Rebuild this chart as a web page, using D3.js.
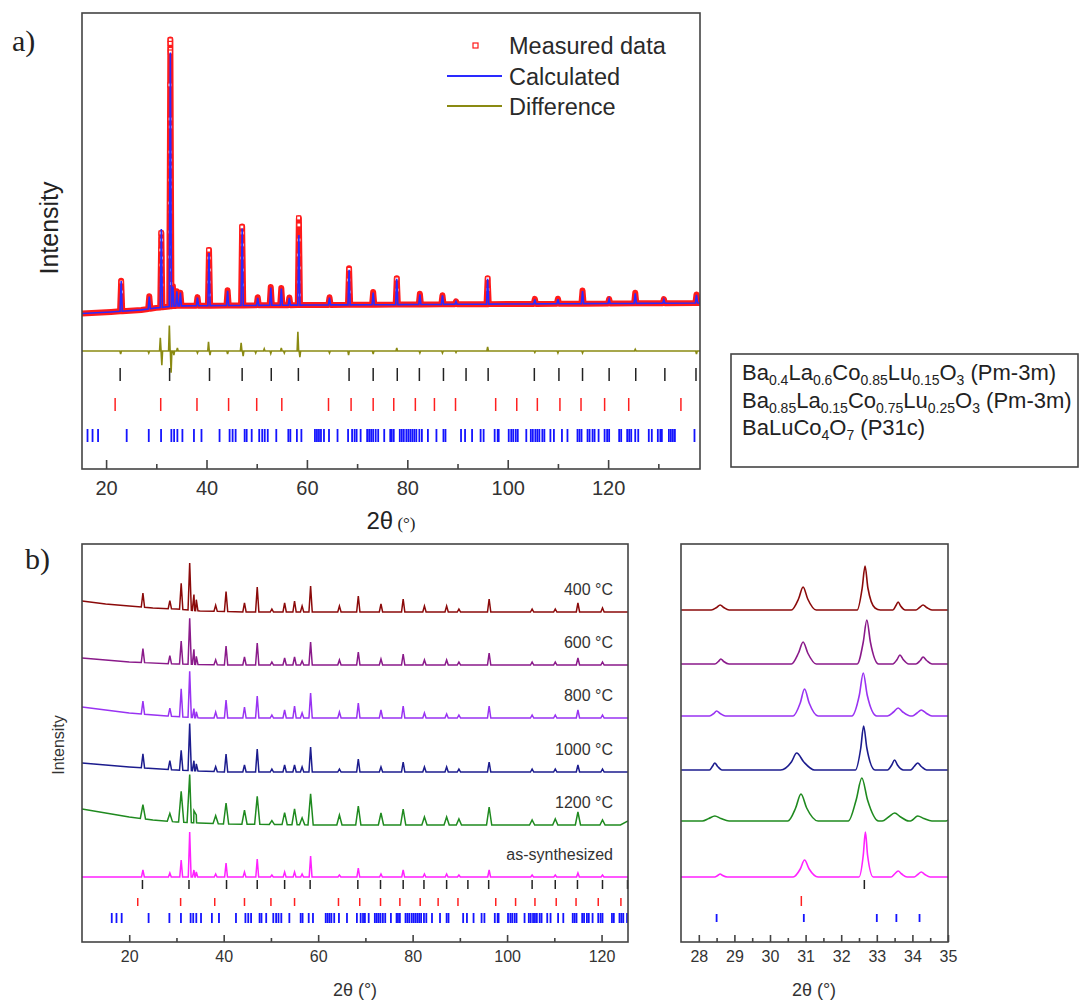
<!DOCTYPE html>
<html>
<head>
<meta charset="utf-8">
<script src="https://cdn.jsdelivr.net/npm/d3@7"></script>
<style>
body { margin: 0; background: #fff; }
svg { display: block; font-family: "Liberation Sans", Arial, sans-serif; }
</style>
</head>
<body>
<script>
// ---------- data : panel a (Rietveld fit) ----------
const aBackground = [[15.2, 35], [21, 50], [27, 70], [30, 90], [34, 110], [60, 118], [100, 128], [138.3, 138]];
const aPeakPos = [23.0, 28.6, 31.0, 32.8, 33.3, 34.1, 34.8, 38.2, 40.5, 44.2, 47.1, 50.2, 52.8, 54.9, 56.5, 58.4,
  64.5, 68.4, 73.2, 77.9, 82.5, 87.0, 89.7, 96.0, 105.4, 110.0, 114.9, 120.2, 125.4, 131.1, 137.6];
const aCalc = [298, 120, 773, 2505, 195, 143, 130, 80, 520, 146, 758, 75, 175, 165, 72, 692,
  72, 347, 120, 255, 100, 88, 28, 250, 45, 45, 125, 42, 100, 35, 80];
const aMeas = [300, 125, 735, 2635, 200, 145, 130, 85, 550, 150, 778, 80, 180, 170, 75, 857,
  75, 360, 125, 260, 105, 90, 30, 255, 50, 50, 130, 45, 105, 40, 85];
// measured points readable on the peak flanks (absolute counts)
const aMeasPts = [[32.78, 2734], [32.78, 2700], [32.8, 2640], [32.8, 2615], [32.72, 2290], [32.75, 1954], [32.78, 1875],
  [32.75, 1628], [32.8, 1549], [32.78, 1480], [32.75, 1352], [32.8, 1283], [32.72, 1125], [32.78, 1036], [32.75, 839],
  [32.8, 691], [32.72, 592], [32.85, 464], [32.9, 330],
  [30.95, 829], [31.0, 760], [30.92, 661], [31.05, 582], [30.95, 513], [31.0, 415], [31.1, 316],
  [40.45, 660], [40.5, 582], [40.55, 464], [40.5, 345], [40.6, 217],
  [47.05, 888], [47.1, 829], [47.12, 711], [47.08, 582], [47.15, 464], [47.2, 316],
  [58.35, 977], [58.4, 908], [58.42, 760], [58.38, 612], [58.45, 484], [58.4, 345], [58.5, 217],
  [68.4, 470], [68.35, 365], [68.45, 247], [23.0, 345], [23.05, 247], [77.9, 375], [77.95, 266], [96.0, 378], [96.05, 270]];
const aDiffOffset = -335;
const aDiff = [[22.9, -30], [28.5, -20], [30.8, 130], [31.1, -140], [32.6, 250], [32.95, -215], [33.5, -40], [34.2, 30],
  [38.2, -20], [40.4, 90], [40.7, -40], [44.2, -30], [46.9, 80], [47.3, -50], [49.8, -20], [51.5, 20], [52.8, -25],
  [54.9, 30], [55.5, -20], [58.2, 190], [58.6, -60], [64.5, -20], [68.3, -40], [73.2, -30], [77.9, 30], [82.5, -20],
  [87.0, -20], [89.7, -15], [96.0, 40], [105.4, -15], [110.0, -20], [114.9, -20], [125.4, 15], [137.6, -30]];

// reflection positions of the three phases
const phase1 = [22.8, 32.65, 40.6, 47.1, 52.9, 58.3, 68.4, 73.2, 78.0, 82.4, 87.2, 91.7, 96.1, 105.3, 110.2, 114.9,
  120.2, 125.5, 131.3, 137.5];
const phase2 = [21.8, 30.88, 38.1, 44.4, 50.0, 55.0, 64.3, 68.8, 73.2, 77.3, 81.6, 85.4, 89.6, 97.6, 101.8, 105.9,
  110.4, 114.6, 119.3, 124.1, 134.5];
const phase3 = [16.3, 17.3, 18.4, 24.1, 28.5, 30.95, 33.0, 33.55, 34.2, 35.2, 37.5, 39.0, 42.6, 44.6, 45.2, 45.8, 47.6,
  48.0, 49.0, 50.5, 51.1, 51.6, 52.2, 53.9, 56.3, 56.7, 58.0, 58.9, 61.6, 62.0, 62.4, 62.8, 63.4, 64.4, 66.1, 68.2,
  69.0, 69.5, 69.9, 70.7, 72.0, 72.4, 72.8, 73.2, 73.7, 74.2, 75.4, 76.6, 76.9, 77.3, 78.5, 78.9, 79.3, 79.8, 80.2,
  80.6, 81.0, 81.4, 81.8, 82.4, 82.9, 84.1, 85.8, 87.2, 87.6, 90.7, 91.5, 92.9, 94.6, 95.2, 97.4, 98.0, 98.2, 100.2,
  100.7, 101.1, 101.6, 102.0, 103.7, 104.6, 105.0, 105.5, 105.9, 106.3, 106.9, 107.3, 108.5, 109.2, 110.8, 111.9,
  113.9, 114.3, 114.7, 115.9, 116.3, 116.9, 117.3, 118.1, 119.3, 119.8, 120.2, 122.2, 122.6, 123.8, 124.2, 124.6,
  125.4, 126.0, 128.1, 128.7, 129.9, 130.4, 130.7, 132.1, 132.5, 132.9, 133.3, 137.2];

const legendA = ["Measured data", "Calculated", "Difference"];
const formulas = [
  { parts: ["Ba", "0.4", "La", "0.6", "Co", "0.85", "Lu", "0.15", "O", "3"], group: " (Pm-3m)" },
  { parts: ["Ba", "0.85", "La", "0.15", "Co", "0.75", "Lu", "0.25", "O", "3"], group: " (Pm-3m)" },
  { parts: ["BaLuCo", "4", "O", "7"], group: " (P31c)" }
];

// ---------- data : panel b (annealed samples) ----------
const samples = ["400 °C", "600 °C", "800 °C", "1000 °C", "1200 °C", "as-synthesized"];
const sampleColors = ["#8b0a0a", "#8a1a8a", "#9933f2", "#1c1c8e", "#1f8a1f", "#ff22ff"];
const offsetsWide = [330, 277, 224, 170, 117, 65];
const offsetsZoom = [332, 278, 226, 172, 121, 65];
const bPeakPos = [22.9, 28.6, 31.0, 32.8, 33.7, 34.2, 38.3, 40.5, 44.4, 47.1, 50.2, 52.9, 55.0, 56.6, 58.4, 64.5,
  68.5, 73.3, 78.0, 82.5, 87.2, 89.8, 96.2, 105.3, 110.2, 115.0, 120.2];
const bHeights = [
  [14, 8, 26, 47, 16, 11, 6, 20, 9, 25, 3, 9, 11, 6, 26, 6, 16, 8, 13, 6, 6, 3, 13, 3, 3, 9, 4],
  [14, 8, 23, 46, 15, 8, 5, 19, 8, 22, 3, 7, 8, 4, 23, 5, 13, 6, 11, 5, 5, 3, 12, 3, 3, 7, 3],
  [13, 8, 28, 46, 9, 6, 6, 18, 11, 22, 3, 8, 12, 5, 25, 6, 15, 8, 12, 5, 4, 3, 12, 3, 3, 8, 3],
  [14, 9, 20, 47, 10, 7, 5, 18, 7, 23, 3, 7, 7, 5, 25, 3, 13, 5, 10, 5, 5, 3, 10, 3, 3, 7, 3],
  [14, 8, 31, 48, 12, 8, 8, 21, 14, 28, 4, 12, 16, 7, 31, 10, 19, 12, 16, 8, 8, 6, 18, 5, 6, 13, 5],
  [7, 4, 17, 45, 7, 5, 3, 14, 5, 18, 2, 5, 5, 3, 21, 2, 9, 3, 7, 3, 3, 2, 7, 2, 2, 4, 2]
];
const bBackgrounds = [
  [[10, 11], [15, 8], [20, 6], [25, 4], [30, 3], [35, 1], [45, 0], [125.6, 0]],
  [[10, 7], [15, 5], [20, 3], [30, 1], [40, 0], [125.6, 0]],
  [[10, 11], [15, 8], [20, 5], [28, 2], [35, 0], [125.6, 0]],
  [[10, 9], [15, 7], [20, 5], [30, 2], [40, 0], [125.6, 0]],
  [[10, 16], [15, 12], [20, 8], [25, 5], [30, 3], [40, 1], [60, 0], [124, 0], [125.6, 4]],
  [[10, 0], [125.6, 0]]
];
// 27.5-35 degree close-up, read point by point
const zoomCurves = [
  [[27.5, 0], [28.35, 0], [28.5, 2.5], [28.6, 5], [28.7, 2.5], [28.85, 0], [30.6, 0], [30.8, 11], [30.93, 23], [31.06, 11],
   [31.3, 0], [32.45, 0], [32.59, 22], [32.67, 44], [32.75, 22], [32.95, 2], [33.1, 0], [33.45, 0], [33.53, 4], [33.6, 8],
   [33.67, 4], [33.8, 0], [34.1, 0], [34.2, 2.5], [34.3, 5], [34.4, 2.5], [34.55, 0], [35, 0]],
  [[27.5, 0], [28.45, 0], [28.55, 2.5], [28.62, 5], [28.7, 2.5], [28.85, 0], [30.6, 0], [30.8, 11], [30.93, 22], [31.06, 11],
   [31.3, 0], [32.45, 0], [32.62, 22], [32.72, 44], [32.82, 22], [33.05, 0], [33.45, 0], [33.57, 4.5], [33.65, 9],
   [33.74, 4.5], [33.9, 0], [34.1, 0], [34.22, 3.5], [34.3, 7], [34.4, 3.5], [34.55, 0], [35, 0]],
  [[27.5, 0], [28.3, 0], [28.42, 2.5], [28.5, 5], [28.6, 2.5], [28.75, 0], [30.65, 0], [30.85, 13], [30.97, 27], [31.1, 13],
   [31.35, 0], [32.3, 0], [32.51, 21], [32.62, 43], [32.73, 21], [33.0, 0], [33.3, 0], [33.47, 4], [33.6, 8], [33.73, 4],
   [33.95, 0], [34.0, 0], [34.13, 3], [34.25, 6], [34.38, 3], [34.55, 0], [35, 0]],
  [[27.5, 0], [28.3, 0], [28.38, 3.5], [28.45, 7], [28.53, 3.5], [28.65, 0], [30.3, 0], [30.6, 8], [30.75, 17], [30.95, 8],
   [31.25, 0], [32.4, 0], [32.55, 22], [32.63, 44], [32.72, 22], [32.95, 0], [33.3, 0], [33.42, 5], [33.5, 10],
   [33.58, 5], [33.75, 0], [33.95, 0], [34.05, 3.5], [34.15, 7], [34.25, 3.5], [34.4, 0], [35, 0]],
  [[27.5, 0], [28.1, 0], [28.28, 2.5], [28.45, 5], [28.62, 2.5], [28.85, 0], [30.5, 0], [30.72, 13], [30.87, 27], [31.03, 13],
   [31.35, 0], [32.2, 0], [32.42, 21], [32.58, 43], [32.74, 21], [33.05, 0], [33.15, 0], [33.33, 4], [33.5, 8], [33.67, 4],
   [33.9, 0], [33.95, 0], [34.0, 1], [34.15, 5], [34.32, 2.5], [34.55, 0], [34.95, 0], [35, 1]],
  [[27.5, 0], [28.45, 0], [28.53, 1.5], [28.6, 3], [28.67, 1.5], [28.8, 0], [30.65, 0], [30.85, 8], [30.97, 17], [31.1, 8],
   [31.35, 0], [32.5, 0], [32.62, 22], [32.68, 45], [32.74, 22], [32.9, 0], [33.4, 0], [33.5, 3], [33.6, 6], [33.7, 3],
   [33.85, 0], [34.05, 0], [34.15, 2.5], [34.25, 5], [34.35, 2.5], [34.5, 0], [35, 0]]
];

// ---------- layout ----------
const W = 1080, H = 1003;
const svg = d3.select('body').append('svg').attr('width', W).attr('height', H);
const frameColor = '#444';
const textColor = '#333';

// spike profile: background knots + triangular peaks
function spikePoints(bg, pos, heights, hw) {
  const b = d3.scaleLinear().domain(bg.map(d => d[0])).range(bg.map(d => d[1])).clamp(true);
  let pts = bg.filter(k => !pos.some((p, i) => heights[i] > 0 && Math.abs(k[0] - p) < hw)).map(k => [k[0], k[1]]);
  pos.forEach((p, i) => {
    if (!(heights[i] > 0)) return;
    pts.push([p - hw, b(p - hw)], [p, b(p) + heights[i]], [p + hw, b(p + hw)]);
  });
  return pts.sort((m, n) => m[0] - n[0]);
}

function addClip(id, x0, y0, x1, y1) {
  svg.append('clipPath').attr('id', id).append('rect')
    .attr('x', x0).attr('y', y0).attr('width', x1 - x0).attr('height', y1 - y0);
}

function frame(x0, y0, x1, y1) {
  svg.append('rect').attr('x', x0).attr('y', y0).attr('width', x1 - x0).attr('height', y1 - y0)
    .attr('fill', 'none').attr('stroke', frameColor).attr('stroke-width', 1.6);
}

function bottomAxis(x, y0, majors, minors, fs, majLen, minLen, pad) {
  const g = svg.append('g').attr('transform', 'translate(0,' + y0 + ')');
  g.call(d3.axisBottom(x).tickValues(majors).tickSize(-majLen).tickPadding(pad).tickFormat(d3.format('d')));
  g.append('g').call(d3.axisBottom(x).tickValues(minors).tickSize(-minLen).tickFormat(''));
  g.selectAll('.domain').remove();
  g.selectAll('line').attr('stroke', frameColor).attr('stroke-width', 1.6);
  g.selectAll('text').attr('font-size', fs).attr('fill', textColor)
    .attr('font-family', '"Liberation Sans", Arial, sans-serif');
}

function tickRow(x, list, y1, y2, color, w) {
  const [d0, d1] = x.domain();
  svg.append('g').selectAll('line')
    .data(list.filter(d => d >= d0 && d <= d1))
    .join('line')
    .attr('x1', d => x(d)).attr('x2', d => x(d))
    .attr('y1', y1).attr('y2', y2)
    .attr('stroke', color).attr('stroke-width', w);
}

// ================= panel a =================
const A = { l: 82, r: 700, t: 13, b: 469 };
const xa = d3.scaleLinear().domain([15.2, 138.3]).range([A.l, A.r]);
const ya = d3.scaleLinear().domain([-1500, 3000]).range([A.b, A.t]);
addClip('clipA', A.l, A.t, A.r, A.b);
const lineA = d3.line().x(d => xa(d[0])).y(d => ya(d[1]));

const gA = svg.append('g').attr('clip-path', 'url(#clipA)');
// measured data : dense markers form a thick band
gA.append('path').datum(spikePoints(aBackground, aPeakPos, aMeas, 0.22))
  .attr('fill', 'none').attr('stroke', '#ff1a1a').attr('stroke-width', 6).attr('stroke-linejoin', 'round')
  .attr('d', lineA);
gA.append('g').selectAll('rect').data(aMeasPts).join('rect')
  .attr('x', d => xa(d[0]) - 2).attr('y', d => ya(d[1]) - 2).attr('width', 4).attr('height', 4)
  .attr('fill', '#fff').attr('stroke', '#ff1a1a').attr('stroke-width', 1.2);
// calculated
gA.append('path').datum(spikePoints(aBackground, aPeakPos, aCalc, 0.22))
  .attr('fill', 'none').attr('stroke', '#2a2aff').attr('stroke-width', 1.6).attr('d', lineA);
// difference
const diffLine = [[15.2, aDiffOffset]];
aDiff.forEach(d => {
  diffLine.push([d[0] - 0.15, aDiffOffset], [d[0], aDiffOffset + d[1]], [d[0] + 0.15, aDiffOffset]);
});
diffLine.push([138.3, aDiffOffset]);
gA.append('path').datum(diffLine)
  .attr('fill', 'none').attr('stroke', '#8a8a12').attr('stroke-width', 1.6).attr('d', lineA);

tickRow(xa, phase1, 368, 381, '#222', 1.5);
tickRow(xa, phase2, 398, 411, '#ff2020', 1.5);
tickRow(xa, phase3, 429, 442, '#1414ff', 1.8);

frame(A.l, A.t, A.r, A.b);
bottomAxis(xa, A.b, d3.range(20, 121, 20), d3.range(30, 131, 20), 20, 9, 5, 12);

// legend
const legA = svg.append('g');
legA.append('rect').attr('x', 473).attr('y', 43).attr('width', 5).attr('height', 5)
  .attr('fill', '#fff').attr('stroke', '#ff1a1a').attr('stroke-width', 1.2);
legA.append('line').attr('x1', 447).attr('x2', 502).attr('y1', 76).attr('y2', 76)
  .attr('stroke', '#2a2aff').attr('stroke-width', 2);
legA.append('line').attr('x1', 447).attr('x2', 502).attr('y1', 106).attr('y2', 106)
  .attr('stroke', '#8a8a12').attr('stroke-width', 2);
legA.selectAll('text').data(legendA).join('text')
  .attr('x', 509).attr('y', (d, i) => 54 + i * 30.5)
  .attr('font-size', 23.5).attr('fill', '#2a2a2a').text(d => d);

svg.append('text').attr('transform', 'translate(58,228) rotate(-90)').attr('text-anchor', 'middle')
  .attr('font-size', 25).attr('fill', '#222').text('Intensity');
const xlabA = svg.append('text').attr('x', 391).attr('y', 529).attr('text-anchor', 'middle').attr('fill', '#222');
xlabA.append('tspan').attr('font-size', 24).text('2θ');
xlabA.append('tspan').attr('font-size', 17).attr('font-family', '"Liberation Serif", serif').text(' (°)');
svg.append('text').attr('x', 12).attr('y', 51).attr('font-family', '"Liberation Serif", serif')
  .attr('font-size', 30).attr('fill', '#222').text('a)');

// phase box
svg.append('rect').attr('x', 731).attr('y', 354).attr('width', 347).attr('height', 113)
  .attr('fill', '#fff').attr('stroke', frameColor).attr('stroke-width', 1.6);
formulas.forEach((f, i) => {
  const t = svg.append('text').attr('x', 742).attr('y', 380 + i * 27.5).attr('font-size', 22).attr('fill', '#222');
  f.parts.forEach((p, j) => {
    const s = t.append('tspan').text(p);
    if (j % 2 === 1) s.attr('font-size', 14).attr('dy', 5);
    else if (j > 0) s.attr('dy', -5);
  });
  t.append('tspan').attr('dy', -5).text(f.group);
});

// ================= panel b =================
const B = { l: 82, r: 628, t: 544, b: 942 };
const C = { l: 681, r: 948, t: 544, b: 942 };
const xb = d3.scaleLinear().domain([10, 125.6]).range([B.l, B.r]);
const xc = d3.scaleLinear().domain([27.5, 35]).range([C.l, C.r]);
const yb = d3.scaleLinear().domain([0, 398]).range([B.b, B.t]);
addClip('clipB', B.l, B.t, B.r, B.b);
addClip('clipC', C.l, C.t, C.r, C.b);

const gB = svg.append('g').attr('clip-path', 'url(#clipB)');
const gC = svg.append('g').attr('clip-path', 'url(#clipC)');
const spikeHalf = [0.35, 0.35, 0.35, 0.35, 0.55, 0.3];

samples.forEach((name, i) => {
  const lineB = d3.line().x(d => xb(d[0])).y(d => yb(d[1] + offsetsWide[i]));
  gB.append('path').datum(spikePoints(bBackgrounds[i], bPeakPos, bHeights[i], spikeHalf[i]))
    .attr('fill', 'none').attr('stroke', sampleColors[i]).attr('stroke-width', 1.5).attr('d', lineB);
  const lineC = d3.line().x(d => xc(d[0])).y(d => yb(d[1] + offsetsZoom[i])).curve(d3.curveMonotoneX);
  gC.append('path').datum(zoomCurves[i])
    .attr('fill', 'none').attr('stroke', sampleColors[i]).attr('stroke-width', 1.6).attr('d', lineC);
  svg.append('text').attr('x', 613).attr('y', yb(offsetsWide[i]) - 17).attr('text-anchor', 'end')
    .attr('font-size', 16).attr('fill', textColor).text(name);
});

tickRow(xb, phase1, 880, 889, '#222', 1.5);
tickRow(xb, phase2, 898, 906, '#ff2020', 1.5);
tickRow(xb, phase3, 913, 923, '#1414ff', 1.8);
tickRow(xc, phase1, 880, 889, '#222', 1.5);
tickRow(xc, phase2, 896, 906, '#ff2020', 1.5);
tickRow(xc, phase3, 914, 922, '#1414ff', 1.8);

frame(B.l, B.t, B.r, B.b);
frame(C.l, C.t, C.r, C.b);
bottomAxis(xb, B.b, d3.range(20, 121, 20), d3.range(30, 121, 20), 16, 7, 4, 9);
bottomAxis(xc, C.b, d3.range(28, 35.1, 1), d3.range(27.5, 35, 1).filter(d => d > 27.5), 16, 7, 4, 9);

svg.append('text').attr('transform', 'translate(64,745) rotate(-90)').attr('text-anchor', 'middle')
  .attr('font-size', 16).attr('fill', textColor).text('Intensity');
[355, 814].forEach(cx => {
  svg.append('text').attr('x', cx).attr('y', 996).attr('text-anchor', 'middle')
    .attr('font-size', 18).attr('fill', textColor).text('2θ (°)');
});
svg.append('text').attr('x', 25).attr('y', 569).attr('font-family', '"Liberation Serif", serif')
  .attr('font-size', 30).attr('fill', '#222').text('b)');
</script>
</body>
</html>
